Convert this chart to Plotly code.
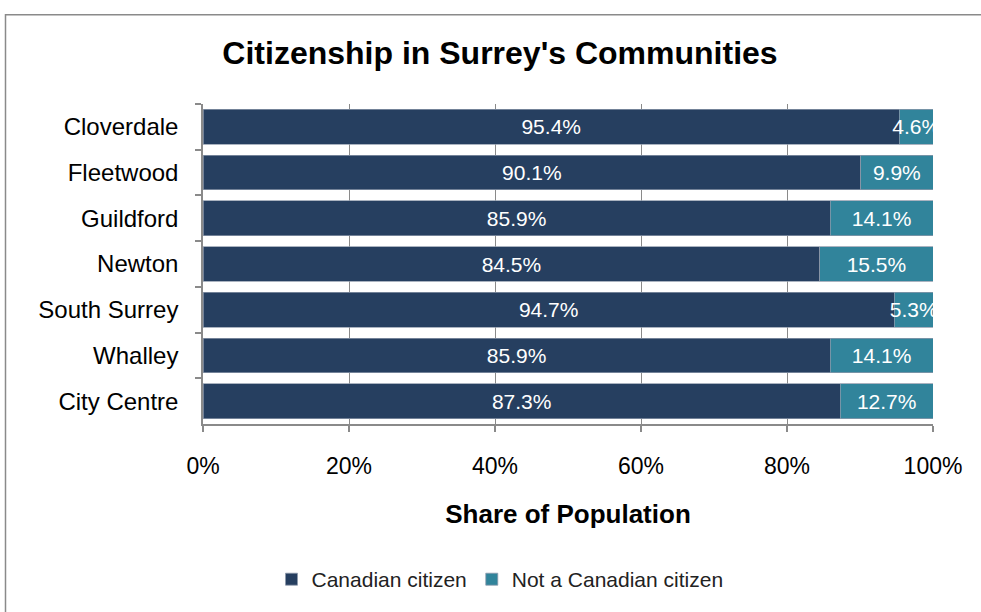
import plotly.graph_objects as go

communities = ["Cloverdale", "Fleetwood", "Guildford", "Newton", "South Surrey", "Whalley", "City Centre"]
canadian = [95.4, 90.1, 85.9, 84.5, 94.7, 85.9, 87.3]
not_canadian = [4.6, 9.9, 14.1, 15.5, 5.3, 14.1, 12.7]
x_ticks = [0, 20, 40, 60, 80, 100]
x_tick_labels = ["0%", "20%", "40%", "60%", "80%", "100%"]

DARK = "#263F60"
TEAL = "#31849B"
FONT = "Liberation Sans, Arial, sans-serif"

fig = go.Figure()
for vals, name, color in [(canadian, "Canadian citizen", DARK), (not_canadian, "Not a Canadian citizen", TEAL)]:
    fig.add_trace(go.Bar(
        y=communities, x=vals, orientation="h", name=name,
        marker=dict(color=color, line=dict(color="#8E9AAB", width=0.75)),
        text=[f"{v:.1f}%" for v in vals], textposition="inside", textangle=0,
        insidetextanchor="middle", constraintext="none", cliponaxis=False,
        textfont=dict(color="white", size=21, family=FONT),
        hoverinfo="skip",
    ))

L, R, T, B = 203, 48, 104, 185
W, H = 981, 612
pw, ph = W - L - R, H - T - B

def px(x):
    return (x - L) / pw

def py(y):
    return (H - B - y) / ph

fig.update_layout(
    barmode="stack",
    bargap=0.24,
    width=W, height=H,
    margin=dict(l=L, r=R, t=T, b=B),
    paper_bgcolor="white", plot_bgcolor="white",
    font=dict(family=FONT, color="black"),
    title=dict(text="<b>Citizenship in Surrey's Communities</b>", x=500 / W, xanchor="center",
               y=1 - 53 / H, yanchor="middle", font=dict(size=32, family=FONT, color="black")),
    showlegend=True,
    legend=dict(orientation="h", x=px(500), xanchor="center", y=py(584), yanchor="middle",
                font=dict(size=21, family=FONT, color="#222"), traceorder="normal",
                itemwidth=30),
    shapes=[dict(type="rect", xref="paper", yref="paper",
                 x0=px(5.5), x1=px(990), y0=py(625), y1=py(14),
                 line=dict(color="#8A8A8A", width=1.5), fillcolor="rgba(0,0,0,0)", layer="below")],
)
fig.update_xaxes(
    range=[0, 100], tickvals=x_ticks, ticktext=x_tick_labels,
    showgrid=True, gridcolor="#8A8A8A", gridwidth=1,
    showline=True, linecolor="#8A8A8A", linewidth=1.5,
    ticks="outside", ticklen=6, tickcolor="#8A8A8A", tickwidth=1.5,
    tickfont=dict(size=23, family=FONT, color="black"), ticklabelstandoff=15,
    title=dict(text="<b>Share of Population</b>", font=dict(size=26, family=FONT, color="black"), standoff=26),
    zeroline=False, fixedrange=True,
)
fig.update_yaxes(
    autorange="reversed", type="category",
    showline=True, linecolor="#8A8A8A", linewidth=1.5,
    ticks="outside", ticklen=6, tickcolor="#8A8A8A", tickwidth=1.5, tickson="boundaries",
    tickfont=dict(size=24, family=FONT, color="black"), ticklabelstandoff=18,
    showgrid=False, fixedrange=True,
)

fig.write_html("out.html", config={"displayModeBar": False},
               post_script="document.body.style.margin='0';")
